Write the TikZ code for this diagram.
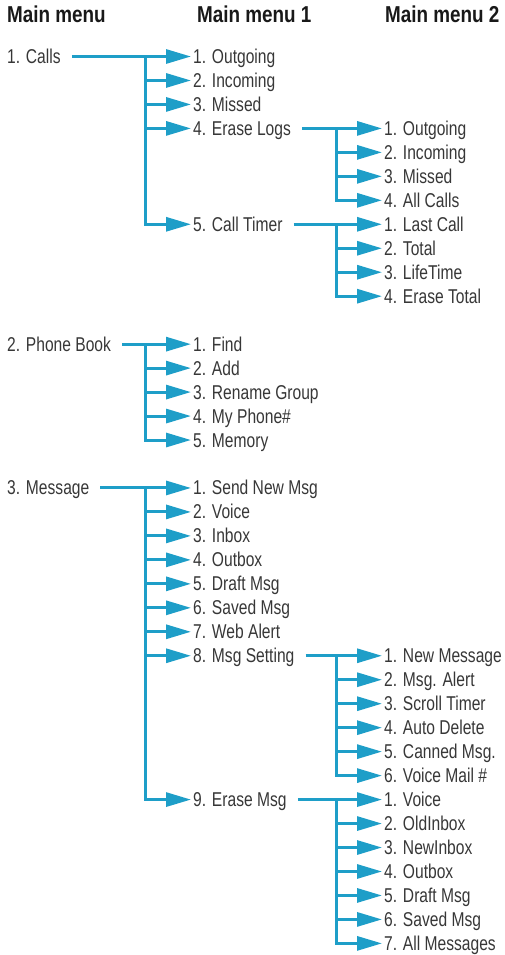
\documentclass[tikz,border=0pt]{standalone}
\usepackage{fontspec}
\setmainfont{Liberation Sans}[FakeStretch=0.82]
\newfontfamily\itemfont{Liberation Sans}[FakeStretch=0.78]
\usetikzlibrary{arrows.meta}
\definecolor{menublue}{RGB}{30,158,200}
\definecolor{menutext}{RGB}{55,55,55}
\tikzset{
    head/.style={anchor=west, inner sep=0pt, text=black!90,
        font=\fontsize{23}{23}\selectfont\bfseries},
    item/.style={anchor=west, inner xsep=2pt, inner ysep=0pt,
        text height=14pt, text depth=0pt, text=menutext,
        font=\itemfont\fontsize{20}{20}\selectfont},
    link/.style={menublue, line width=3pt,
        -{Triangle[length=25pt,width=14pt]}},
}
\begin{document}
\begin{tikzpicture}[x=1pt, y=-1pt]
\useasboundingbox (0,0) rectangle (505,955);
% column titles
\node[head] (title0) at (7,14) {Main menu};
\node[head] (title1) at (197,14) {Main menu 1};
\node[head] (title2) at (385,14) {Main menu 2};
\begin{scope}[yshift=-56.5pt, y=-23.97pt]
% main menu
\node[item] (calls) at (5,0) {1. Calls};
\node[item] (book) at (5,12) {2. Phone Book};
\node[item] (msg) at (5,18) {3. Message};
% main menu 1
\foreach \txt [count=\i] in {1. Outgoing, 2. Incoming, 3. Missed, 4. Erase Logs}
    \node[item] (c\i) at (191,\i-1) {\txt};
\node[item] (c5) at (191,7) {5. Call Timer};
\foreach \txt [count=\i] in {1. Find, 2. Add, 3. Rename Group, 4. My Phone\#, 5. Memory}
    \node[item] (b\i) at (191,\i+11) {\txt};
\foreach \txt [count=\i] in {1. Send New Msg, 2. Voice, 3. Inbox, 4. Outbox,
        5. Draft Msg, 6. Saved Msg, 7. Web Alert, 8. Msg Setting}
    \node[item] (m\i) at (191,\i+17) {\txt};
\node[item] (m9) at (191,31) {9. Erase Msg};
% main menu 2
\foreach \txt [count=\i] in {1. Outgoing, 2. Incoming, 3. Missed, 4. All Calls}
    \node[item] (l\i) at (382,\i+2) {\txt};
\foreach \txt [count=\i] in {1. Last Call, 2. Total, 3. LifeTime, 4. Erase Total}
    \node[item] (t\i) at (382,\i+6) {\txt};
\foreach \txt [count=\i] in {1. New Message, 2. Msg. Alert, 3. Scroll Timer,
        4. Auto Delete, 5. Canned Msg., 6. Voice Mail \#}
    \node[item] (s\i) at (382,\i+24) {\txt};
\foreach \txt [count=\i] in {1. Voice, 2. OldInbox, 3. NewInbox, 4. Outbox,
        5. Draft Msg, 6. Saved Msg, 7. All Messages}
    \node[item] (e\i) at (382,\i+30) {\txt};
% forks
\coordinate (callsfork) at (145,0);
\coordinate (bookfork) at (145,12);
\coordinate (msgfork) at (145,18);
\coordinate (c4fork) at (336,3);
\coordinate (c5fork) at (336,7);
\coordinate (m8fork) at (336,25);
\coordinate (m9fork) at (336,31);
% arrows
\draw[link] ([xshift=9pt]calls.east) -- (c1.west);
\foreach \k in {2,...,5}
    \draw[link] (callsfork) |- (c\k.west);
\draw[link] ([xshift=9pt]book.east) -- (b1.west);
\foreach \k in {2,...,5}
    \draw[link] (bookfork) |- (b\k.west);
\draw[link] ([xshift=9pt]msg.east) -- (m1.west);
\foreach \k in {2,...,9}
    \draw[link] (msgfork) |- (m\k.west);
\draw[link] ([xshift=9pt]c4.east) -- (l1.west);
\foreach \k in {2,...,4}
    \draw[link] (c4fork) |- (l\k.west);
\draw[link] ([xshift=9pt]c5.east) -- (t1.west);
\foreach \k in {2,...,4}
    \draw[link] (c5fork) |- (t\k.west);
\draw[link] ([xshift=9pt]m8.east) -- (s1.west);
\foreach \k in {2,...,6}
    \draw[link] (m8fork) |- (s\k.west);
\draw[link] ([xshift=9pt]m9.east) -- (e1.west);
\foreach \k in {2,...,7}
    \draw[link] (m9fork) |- (e\k.west);
\end{scope}
\end{tikzpicture}
\end{document}
